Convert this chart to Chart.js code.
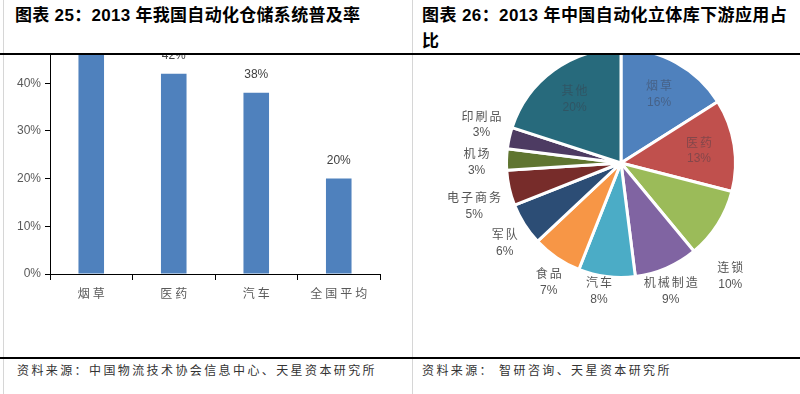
<!DOCTYPE html>
<html><head><meta charset="utf-8">
<script src="https://cdn.jsdelivr.net/npm/chart.js@4.4.1/dist/chart.umd.min.js"></script>
<style>
html,body{margin:0;padding:0;background:#fff;width:800px;height:394px;overflow:hidden;position:relative;}
.abs{position:absolute;}
.title{font-family:"Liberation Sans","Noto Sans CJK SC",sans-serif;font-weight:bold;font-size:17px;color:#000;white-space:nowrap;line-height:26px;}
.src{font-family:"Noto Sans CJK SC",sans-serif;font-size:12px;color:#333;letter-spacing:2.4px;white-space:nowrap;line-height:16px;}
.clip{position:absolute;overflow:hidden;}
</style></head><body>
<div class="abs" style="left:3px;top:0;width:1px;height:394px;background:#d6d6d6"></div>
<div class="abs" style="left:412px;top:0;width:1px;height:394px;background:#d6d6d6"></div>

<div class="abs title" style="left:15px;top:3px;letter-spacing:0.3px;">图表 25：2013 年我国自动化仓储系统普及率</div>
<div class="abs title" style="left:422px;top:3px;letter-spacing:0.4px;">图表 26：2013 年中国自动化立体库下游应用占<br>比</div>

<div class="clip" style="left:0;top:55px;width:405px;height:302px;">
  <div class="abs" style="left:0;top:-55px;width:405px;height:358px;"><canvas id="bar" width="405" height="358"></canvas></div>
</div>
<div class="clip" style="left:414px;top:55px;width:386px;height:302px;">
  <div class="abs" style="left:0;top:-55px;width:386px;height:358px;"><canvas id="pie" width="386" height="358"></canvas></div>
</div>

<div class="abs" style="left:0;top:53px;width:800px;height:1.5px;background:#000"></div>
<div class="abs" style="left:0;top:357px;width:800px;height:1.5px;background:#000"></div>

<div class="abs src" style="left:17px;top:362px;">资料来源：中国物流技术协会信息中心、天星资本研究所</div>
<div class="abs src" style="left:422px;top:362px;">资料来源： 智研咨询、天星资本研究所</div>

<script>
// ---- data ----
const categories = ['烟草', '医药', '汽车', '全国平均'];
const penetration = [48, 42, 38, 20];
const yTicks = [0, 10, 20, 30, 40, 50];

const pieLabels = ['烟草', '医药', '连锁', '机械制造', '汽车', '食品', '军队', '电子商务', '机场', '印刷品', '其他'];
const pieValues = [16, 13, 10, 9, 8, 7, 6, 5, 3, 3, 20];

// ---- styles ----
const pieColors = ['#4F81BD', '#C0504D', '#9BBB59', '#8064A2', '#4BACC6', '#F79646', '#2C4D75', '#772C2A', '#5F7530', '#4D3B62', '#276A7C'];
const latin = '"Liberation Sans", Arial, "Noto Sans CJK SC", sans-serif';
const cjk = '"Noto Sans CJK SC", sans-serif';

const barLabelPlugin = {
  id: 'barLabels',
  afterDatasetsDraw(chart) {
    const ctx = chart.ctx;
    const meta = chart.getDatasetMeta(0);
    ctx.save();
    ctx.font = '12px ' + latin;
    ctx.fillStyle = '#404040';
    ctx.textAlign = 'center';
    ctx.textBaseline = 'middle';
    meta.data.forEach((bar, i) => {
      ctx.fillText(penetration[i] + '%', bar.x, bar.y - 18);
    });
    // category labels
    const xs = chart.scales.x;
    ctx.font = '12px ' + cjk;
    ctx.fillStyle = '#595959';
    ctx.letterSpacing = '3px';
    categories.forEach((c, i) => {
      ctx.fillText(c, xs.getPixelForValue(i) + 1.5, xs.bottom - 11);
    });
    ctx.restore();
  }
};

new Chart(document.getElementById('bar'), {
  type: 'bar',
  data: {
    labels: categories,
    datasets: [{ data: penetration, backgroundColor: '#4F81BD', barPercentage: 0.31, categoryPercentage: 1 }]
  },
  options: {
    responsive: false, animation: false, devicePixelRatio: 1,
    layout: { padding: { left: 0, right: 25, top: 35.5, bottom: 54 } },
    plugins: { legend: { display: false }, tooltip: { enabled: false } },
    scales: {
      x: {
        grid: { display: true, drawOnChartArea: false, tickLength: 6, color: '#000', offset: true },
        border: { color: '#000', width: 1 },
        ticks: { display: false },
        afterFit(s) { s.height = 30; }
      },
      y: {
        min: 0, max: 50,
        afterBuildTicks(s) { s.ticks = yTicks.map(v => ({ value: v })); },
        grid: { drawOnChartArea: false, tickLength: 5, color: '#000' },
        border: { color: '#000', width: 1 },
        ticks: { callback: v => v + '%', color: '#595959', font: { size: 12, family: latin }, padding: 4 },
        afterFit(s) { s.width = 50; }
      }
    }
  },
  plugins: [barLabelPlugin]
});

const pieLabelPlugin = {
  id: 'pieLabels',
  afterDatasetsDraw(chart, args, opts) {
    const ctx = chart.ctx;
    const meta = chart.getDatasetMeta(0);
    ctx.save();
    ctx.textAlign = 'center';
    ctx.textBaseline = 'middle';
    meta.data.forEach((arc, i) => {
      const p = arc.getProps(['x', 'y', 'startAngle', 'endAngle', 'outerRadius'], true);
      const mid = (p.startAngle + p.endAngle) / 2;
      const dx = Math.cos(mid), dy = Math.sin(mid);
      const name = pieLabels[i], pct = pieValues[i] + '%';
      let cx, cy;
      if (pieValues[i] > 10) {
        cx = p.x + dx * p.outerRadius * 0.69;
        cy = p.y + dy * p.outerRadius * 0.69;
        ctx.fillStyle = 'rgba(60,60,70,0.45)';
      } else {
        const halfW = name.length * 14 / 2;
        const halfH = 17;
        const n = opts.nudge[i] || [0, 0];
        cx = p.x + dx * (p.outerRadius + 8) + dx * halfW + n[0];
        cy = p.y + dy * (p.outerRadius + 8) + dy * halfH + n[1];
        ctx.fillStyle = '#555555';
      }
      ctx.font = '12px ' + cjk;
      ctx.letterSpacing = '2px';
      ctx.fillText(name, cx + 1, cy - 8.5);
      ctx.font = '12px ' + latin;
      ctx.letterSpacing = '0px';
      ctx.fillText(pct, cx, cy + 8.5);
    });
    ctx.restore();
  }
};

new Chart(document.getElementById('pie'), {
  type: 'pie',
  data: {
    labels: pieLabels,
    datasets: [{ data: pieValues, backgroundColor: pieColors, borderColor: '#fff', borderWidth: 3 }]
  },
  options: {
    responsive: false, animation: false, devicePixelRatio: 1,
    layout: { padding: { left: 91, right: 63, top: 47, bottom: 79 } },
    plugins: {
      legend: { display: false }, tooltip: { enabled: false },
      pieLabels: { nudge: { 2: [-6, 38], 3: [-10, 0], 4: [-5, -10], 5: [4.5, 4], 6: [-1, 5], 7: [0, 13], 8: [-8, 3.5], 9: [0.5, -8] } }
    }
  },
  plugins: [pieLabelPlugin]
});
</script>
</body></html>
